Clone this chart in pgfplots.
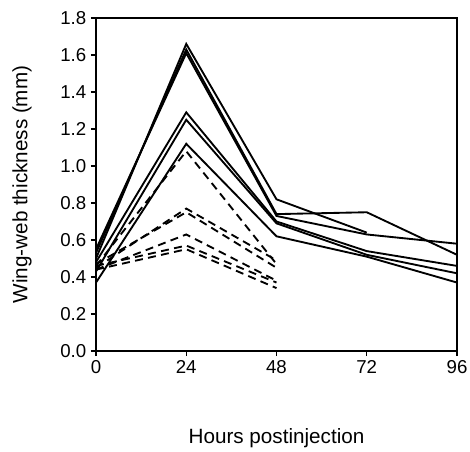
\documentclass[border=0pt]{standalone}
\usepackage{fontspec}
\setmainfont{Liberation Sans}
\usepackage{pgfplots}
\pgfplotsset{compat=1.18}
\pgfplotsset{
    sol/.style={black, solid, line width=1.4pt, no markers},
    dsh/.style={black, line width=1.4pt, no markers, dash pattern=on 6pt off 4pt},
}
\begin{document}
\begin{tikzpicture}
\begin{axis}[
    width=270.75pt, height=249.75pt, scale only axis,
    xmin=0, xmax=96, ymin=0, ymax=1.8,
    xtick={0,24,48,72,96},
    ytick={0,0.2,0.4,0.6,0.8,1.0,1.2,1.4,1.6,1.8},
    yticklabel style={/pgf/number format/.cd, fixed, fixed zerofill, precision=1},
    /pgf/number format/assume math mode=true,
    xtick pos=bottom, ytick pos=left,
    tick align=outside,
    major tick length=3.75pt,
    axis line style={line width=1pt},
    tick style={line width=1pt, black},
    tick label style={font=\fontsize{14}{16}\selectfont},
    label style={font=\fontsize{15.5}{18}\selectfont},
    xlabel={Hours postinjection},
    ylabel={Wing-web thickness (mm)},
    xlabel style={at={(axis description cs:0.5,-0.261)}, anchor=center},
    ylabel style={at={(axis description cs:-0.205,0.5)}, anchor=center},
    clip=false,
]
% solid series
\addplot[sol] coordinates {(0,0.50) (24,1.66) (48,0.82) (72,0.64)};
\addplot[sol] coordinates {(0,0.53) (24,1.63) (48,0.74) (72,0.75) (96,0.52)};
\addplot[sol] coordinates {(0,0.55) (24,1.61) (48,0.73) (72,0.63) (96,0.58)};
\addplot[sol] coordinates {(0,0.48) (24,1.29) (48,0.70) (72,0.54) (96,0.46)};
\addplot[sol] coordinates {(0,0.43) (24,1.25) (48,0.69) (72,0.52) (96,0.42)};
\addplot[sol] coordinates {(0,0.37) (24,1.12) (48,0.62) (72,0.51) (96,0.37)};
% dashed series
\addplot[dsh] coordinates {(0,0.46) (24,1.08) (48,0.47)};
\addplot[dsh] coordinates {(0,0.45) (24,0.77) (48,0.49)};
\addplot[dsh] coordinates {(0,0.47) (24,0.75) (48,0.45)};
\addplot[dsh] coordinates {(0,0.44) (24,0.63) (48,0.38)};
\addplot[dsh] coordinates {(0,0.46) (24,0.57) (48,0.37)};
\addplot[dsh] coordinates {(0,0.44) (24,0.55) (48,0.34)};
\coordinate (bl) at (rel axis cs:0,0);
\coordinate (tr) at (rel axis cs:1,1);
\end{axis}
\pgfresetboundingbox
\path[use as bounding box] ([shift={(-72pt,-75pt)}]bl) rectangle ([shift={(9.75pt,13.5pt)}]tr);
\end{tikzpicture}
\end{document}
